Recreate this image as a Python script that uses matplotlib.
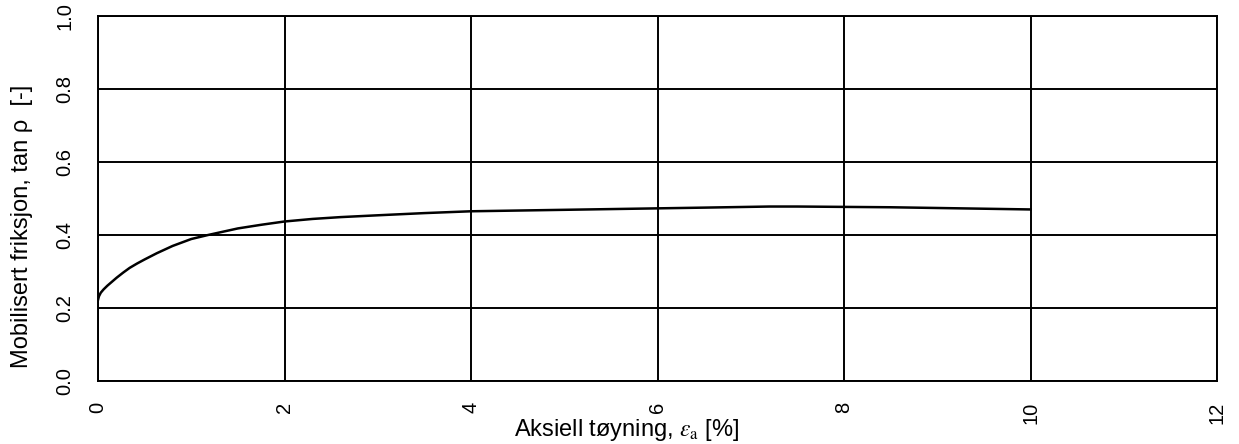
import matplotlib
matplotlib.use("Agg")
import matplotlib.pyplot as plt

# Data
strain = [0.0, 0.01, 0.03, 0.06, 0.1, 0.15, 0.2, 0.27, 0.34, 0.42, 0.5, 0.63, 0.8, 1.0, 1.18, 1.5, 1.75,
          2.0, 2.3, 2.6, 3.0, 3.5, 4.0, 5.0, 6.0, 6.5, 7.2, 7.5, 8.0, 8.5, 9.0, 9.5, 10.0]
tan_rho = [0.222, 0.232, 0.242, 0.251, 0.261, 0.272, 0.283, 0.297, 0.31, 0.322, 0.333, 0.35, 0.37, 0.389, 0.40,
           0.418, 0.428, 0.437, 0.444, 0.449, 0.454, 0.46, 0.465, 0.469, 0.473, 0.475, 0.478, 0.478, 0.477,
           0.476, 0.474, 0.472, 0.47]

x_ticks = [0, 2, 4, 6, 8, 10, 12]
y_ticks = [0.0, 0.2, 0.4, 0.6, 0.8, 1.0]
x_tick_labels = ["0", "2", "4", "6", "8", "10", "12"]
y_tick_labels = ["0.0", "0.2", "0.4", "0.6", "0.8", "1.0"]

plt.rcParams["font.family"] = ["Liberation Sans", "DejaVu Sans"]
plt.rcParams["mathtext.fontset"] = "stix"

W, H = 1239, 444
fig = plt.figure(figsize=(W / 100, H / 100), dpi=100)
ax = fig.add_axes([98 / W, 1 - 381 / H, (1217 - 98) / W, (381 - 16) / H])

ax.plot(strain, tan_rho, color="black", lw=1.8, solid_joinstyle="round")

ax.set_xlim(0, 12)
ax.set_ylim(0, 1.0)
ax.set_xticks(x_ticks)
ax.set_xticklabels(x_tick_labels, rotation=90, fontsize=14.5)
ax.set_yticks(y_ticks)
ax.set_yticklabels(y_tick_labels, rotation=90, va="center", fontsize=14.5)
ax.tick_params(axis="x", length=0, pad=15)
ax.tick_params(axis="y", length=0, pad=17)
ax.grid(True, color="black", lw=1.4)
ax.set_axisbelow(True)
for s in ax.spines.values():
    s.set_linewidth(1.4)
    s.set_color("black")

fig.text(627 / W, 1 - 430 / H, r"Aksiell tøyning, $\varepsilon_{\rm a}$ [%]", fontsize=17,
         ha="center", va="center")
fig.text(22 / W, 1 - 226 / H, "Mobilisert friksjon, tan ρ  [-]", fontsize=17,
         ha="center", va="center", rotation=90)

fig.savefig("out.png", dpi=100, facecolor="white")
